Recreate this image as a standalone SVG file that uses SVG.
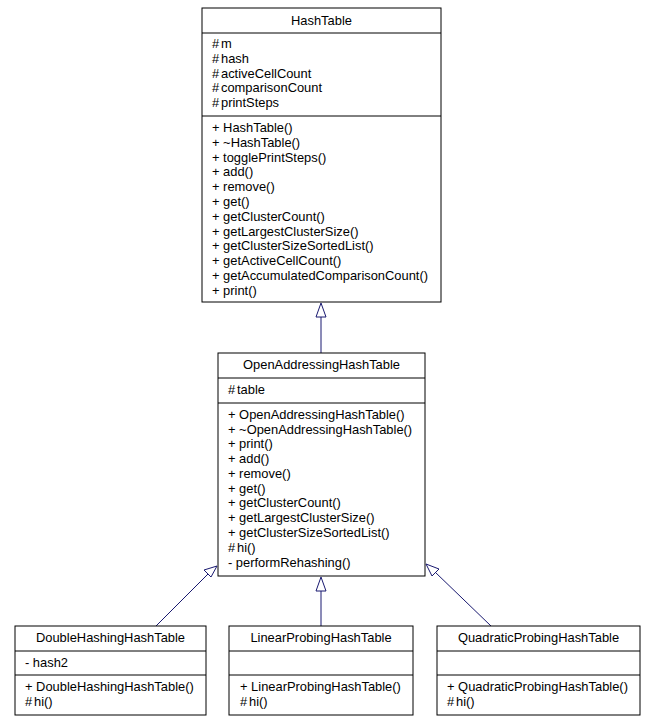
<svg xmlns="http://www.w3.org/2000/svg" width="651" height="726" viewBox="0 0 651 726">
<defs>
<style>
.box{fill:#fff;stroke:#000;stroke-width:1}
.t{font-family:"Liberation Sans",Arial,sans-serif;font-size:12.9px;fill:#000}
.m{text-anchor:middle}
.edge{stroke:#191970;stroke-width:1;fill:none}
.head{fill:#fff;stroke:#191970;stroke-width:1}
</style>
</defs>
<rect width="651" height="726" fill="#fff"/>
<g id="connectors">
<line class="edge" x1="321" y1="353" x2="321" y2="317"/>
<polygon class="head" points="321,303 316,317 326,317"/>
<line class="edge" x1="156" y1="626" x2="208" y2="574"/>
<polygon class="head" points="217,566 204,570 211,577"/>
<line class="edge" x1="321" y1="626" x2="321" y2="591"/>
<polygon class="head" points="321,577 316,591 326,591"/>
<line class="edge" x1="491" y1="626" x2="435" y2="572"/>
<polygon class="head" points="426,564 432,576 439,569"/>
</g>
<g id="HashTable">
<rect class="box" x="202" y="8" width="239" height="294"/>
<line class="box" x1="202" y1="33" x2="441" y2="33"/>
<line class="box" x1="202" y1="116" x2="441" y2="116"/>
<text class="t m" x="321.5" y="25">HashTable</text>
<text class="t" x="212" y="48">#<tspan x="221">m</tspan></text>
<text class="t" x="212" y="63">#<tspan x="221">hash</tspan></text>
<text class="t" x="212" y="78">#<tspan x="221">activeCellCount</tspan></text>
<text class="t" x="212" y="92">#<tspan x="221">comparisonCount</tspan></text>
<text class="t" x="212" y="107">#<tspan x="221">printSteps</tspan></text>
<text class="t" x="212" y="132">+ HashTable()</text>
<text class="t" x="212" y="147">+ ~HashTable()</text>
<text class="t" x="212" y="162">+ togglePrintSteps()</text>
<text class="t" x="212" y="176">+ add()</text>
<text class="t" x="212" y="191">+ remove()</text>
<text class="t" x="212" y="206">+ get()</text>
<text class="t" x="212" y="221">+ getClusterCount()</text>
<text class="t" x="212" y="236">+ getLargestClusterSize()</text>
<text class="t" x="212" y="250">+ getClusterSizeSortedList()</text>
<text class="t" x="212" y="265">+ getActiveCellCount()</text>
<text class="t" x="212" y="280">+ getAccumulatedComparisonCount()</text>
<text class="t" x="212" y="295">+ print()</text>
</g>
<g id="OpenAddressingHashTable">
<rect class="box" x="218" y="353" width="207" height="223"/>
<line class="box" x1="218" y1="378" x2="425" y2="378"/>
<line class="box" x1="218" y1="403" x2="425" y2="403"/>
<text class="t m" x="321.5" y="369">OpenAddressingHashTable</text>
<text class="t" x="228" y="394">#<tspan x="237">table</tspan></text>
<text class="t" x="228" y="419">+ OpenAddressingHashTable()</text>
<text class="t" x="228" y="434">+ ~OpenAddressingHashTable()</text>
<text class="t" x="228" y="448">+ print()</text>
<text class="t" x="228" y="463">+ add()</text>
<text class="t" x="228" y="478">+ remove()</text>
<text class="t" x="228" y="493">+ get()</text>
<text class="t" x="228" y="507">+ getClusterCount()</text>
<text class="t" x="228" y="522">+ getLargestClusterSize()</text>
<text class="t" x="228" y="537">+ getClusterSizeSortedList()</text>
<text class="t" x="228" y="552">#<tspan x="237">hi()</tspan></text>
<text class="t" x="228" y="567">- performRehashing()</text>
</g>
<g id="DoubleHashingHashTable">
<rect class="box" x="15" y="626" width="191" height="89"/>
<line class="box" x1="15" y1="651" x2="206" y2="651"/>
<line class="box" x1="15" y1="675" x2="206" y2="675"/>
<text class="t m" x="110.5" y="642">DoubleHashingHashTable</text>
<text class="t" x="25" y="667">- hash2</text>
<text class="t" x="25" y="691">+ DoubleHashingHashTable()</text>
<text class="t" x="25" y="706">#<tspan x="34">hi()</tspan></text>
</g>
<g id="LinearProbingHashTable">
<rect class="box" x="229" y="626" width="184" height="89"/>
<line class="box" x1="229" y1="651" x2="413" y2="651"/>
<line class="box" x1="229" y1="675" x2="413" y2="675"/>
<text class="t m" x="321" y="642">LinearProbingHashTable</text>
<text class="t" x="240" y="691">+ LinearProbingHashTable()</text>
<text class="t" x="240" y="706">#<tspan x="249">hi()</tspan></text>
</g>
<g id="QuadraticProbingHashTable">
<rect class="box" x="437" y="626" width="203" height="89"/>
<line class="box" x1="437" y1="651" x2="640" y2="651"/>
<line class="box" x1="437" y1="675" x2="640" y2="675"/>
<text class="t m" x="538.5" y="642">QuadraticProbingHashTable</text>
<text class="t" x="447" y="691">+ QuadraticProbingHashTable()</text>
<text class="t" x="447" y="706">#<tspan x="456">hi()</tspan></text>
</g>
</svg>
